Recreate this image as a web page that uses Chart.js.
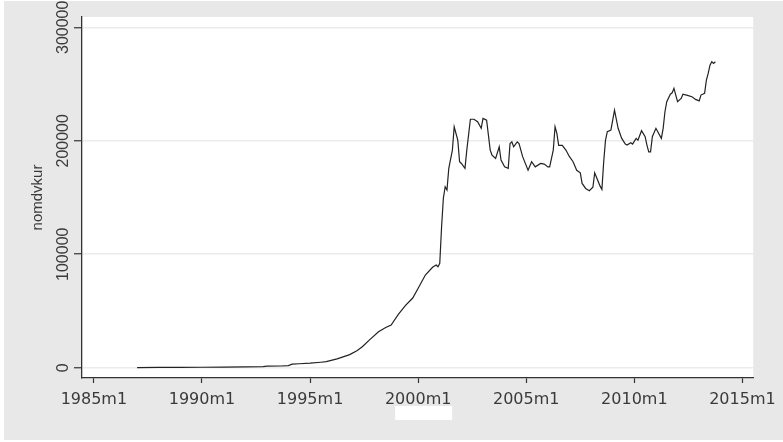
<!DOCTYPE html>
<html>
<head>
<meta charset="utf-8">
<script src="https://cdn.jsdelivr.net/npm/chart.js@4"></script>
<style>
  html, body { margin: 0; padding: 0; background: #ffffff; }
  #wrap { position: absolute; left: 0; top: 0; width: 783px; height: 442px; }
</style>
</head>
<body>
<div id="wrap"><canvas id="graphique"></canvas></div>
<script>
// dates au format Stata (annee m mois)
const dates = [
  '1987m1','1988m1','1989m1','1990m1','1991m1','1992m1','1992m11','1993m1','1993m9','1994m1',
  '1994m3','1994m7','1995m1','1995m7','1995m10','1996m4','1996m11','1997m3','1997m6','1997m10',
  '1998m3','1998m7','1998m10','1999m2','1999m6','1999m10','2000m1','2000m5','2000m9','2000m11',
  '2000m12','2001m1','2001m2','2001m3','2001m4','2001m5','2001m6','2001m8','2001m9','2001m11',
  '2001m12','2002m1','2002m3','2002m4','2002m6','2002m8','2002m10','2002m12','2003m1','2003m3',
  '2003m5','2003m6','2003m8','2003m10','2003m11','2004m1','2004m3','2004m4','2004m5','2004m6',
  '2004m8','2004m9','2004m11','2005m2','2005m4','2005m6','2005m9','2005m11','2006m1','2006m2',
  '2006m4','2006m5','2006m6','2006m7','2006m9','2006m11','2007m1','2007m3','2007m5','2007m7',
  '2007m8','2007m10','2007m12','2008m2','2008m3','2008m5','2008m6','2008m7','2008m8','2008m9',
  '2008m10','2008m12','2009m1','2009m2','2009m4','2009m6','2009m8','2009m9','2009m11','2009m12',
  '2010m2','2010m3','2010m5','2010m7','2010m8','2010m9','2010m10','2010m11','2011m1','2011m2',
  '2011m4','2011m5','2011m6','2011m7','2011m9','2011m10','2011m11','2011m12','2012m1','2012m3',
  '2012m4','2012m6','2012m9','2012m11','2013m1','2013m2','2013m4','2013m5','2013m6','2013m7',
  '2013m8','2013m9','2013m10'
];
const nomdvkur = [
  100,200,300,400,500,700,900,1300,1500,1800,
  3100,3500,4000,4800,5300,7800,11500,15000,18500,24500,
  31700,35500,37600,47000,55000,61400,70000,81700,88500,90500,
  89000,92000,124000,149500,159500,156600,175700,191800,212300,200600,
  181500,180000,175700,191800,219000,219000,216800,211000,219700,218200,
  191800,187400,184500,194700,183000,177000,175700,197500,199000,194700,
  199000,197500,186000,174000,181500,177000,180000,179500,177000,177000,
  191800,212300,206500,196000,196000,191800,186000,181500,174000,171800,
  162400,158000,156000,159000,171800,163900,160000,157200,181500,200600,
  208000,209400,218200,227000,211000,202100,197100,196200,198200,197100,
  202100,200600,208900,203600,196200,190300,190300,203600,211000,208000,
  202100,211000,225600,234400,241100,242300,246200,240300,234400,237300,
  241100,240300,238800,236500,235200,240300,241800,253500,259400,266700,
  269600,268200,269600
];
const yTicks = [0, 100000, 200000, 300000];
const xTickLabels = ['1985m1','1990m1','1995m1','2000m1','2005m1','2010m1','2015m1'];

// convertir '2001m3' en mois Stata (0 = 1960m1)
function versMois(s) {
    const p = s.split('m');
    return (parseInt(p[0]) - 1960) * 12 + parseInt(p[1]) - 1;
}
function versTexte(v) {
    const an = 1960 + Math.floor(v / 12);
    const mois = Math.round(v - (an - 1960) * 12) + 1;
    return an + 'm' + mois;
}

const points = dates.map((d, i) => ({ x: versMois(d), y: nomdvkur[i] }));

// fond gris Stata + zone blanche + tache blanche sous l'axe
const fondStata = {
    id: 'fondStata',
    beforeDraw(chart) {
        const ctx = chart.ctx;
        const a = chart.chartArea;
        ctx.save();
        ctx.fillStyle = '#e8e8e8';
        ctx.fillRect(4, 1, 779, 439);
        ctx.fillStyle = '#ffffff';
        ctx.fillRect(a.left, a.top, a.right - a.left, a.bottom - a.top);
        const cx = chart.scales.x.getPixelForValue(versMois('2000m1'));
        ctx.fillRect(cx - 23, a.bottom + 28, 57, 14);
        ctx.restore();
    }
};

const canvas = document.getElementById('graphique');
canvas.width = 783;
canvas.height = 442;
const ctx = canvas.getContext('2d');

const myChart = new Chart(ctx, {
    type: 'line',
    data: {
        datasets: [{
            label: 'nomdvkur',
            data: points,
            borderColor: '#222222',
            borderWidth: 1.2,
            pointRadius: 0,
            tension: 0,
            fill: false
        }]
    },
    options: {
        responsive: false,
        animation: false,
        devicePixelRatio: 1,
        layout: { padding: { left: 0, top: 17, right: 21, bottom: 0 } },
        plugins: {
            legend: { display: false },
            tooltip: { enabled: false }
        },
        scales: {
            x: {
                type: 'linear',
                min: versMois('1985m1') - 6.6,
                max: versMois('2015m1') + 6,
                afterFit(scale) { scale.height = 64; },
                afterBuildTicks(scale) {
                    scale.ticks = xTickLabels.map(t => ({ value: versMois(t) }));
                },
                border: { color: '#333333', width: 1.3 },
                grid: { drawOnChartArea: false, drawTicks: true, tickLength: 5, tickColor: '#333333', tickWidth: 1.2 },
                ticks: {
                    autoSkip: false,
                    maxRotation: 0,
                    padding: 7,
                    color: '#3a3a3a',
                    font: { family: 'DejaVu Sans', size: 16 },
                    callback: v => versTexte(v)
                }
            },
            y: {
                min: -9080,
                max: 309100,
                afterFit(scale) { scale.width = 82; },
                afterBuildTicks(scale) {
                    scale.ticks = yTicks.map(v => ({ value: v }));
                },
                border: { color: '#333333', width: 1.3 },
                grid: { color: '#ebebeb', lineWidth: 1.5, drawTicks: true, tickLength: 8, tickColor: '#333333', tickWidth: 1.2 },
                title: {
                    display: true,
                    text: 'nomdvkur',
                    color: '#3a3a3a',
                    font: { family: 'Liberation Sans', size: 15 },
                    padding: { top: 29, bottom: 0 }
                },
                ticks: {
                    minRotation: 90,
                    maxRotation: 90,
                    crossAlign: 'center',
                    padding: -16,
                    color: '#3a3a3a',
                    font: { family: 'Liberation Sans', size: 16 },
                    callback: v => String(v)
                }
            }
        }
    },
    plugins: [fondStata]
});
</script>
</body>
</html>
